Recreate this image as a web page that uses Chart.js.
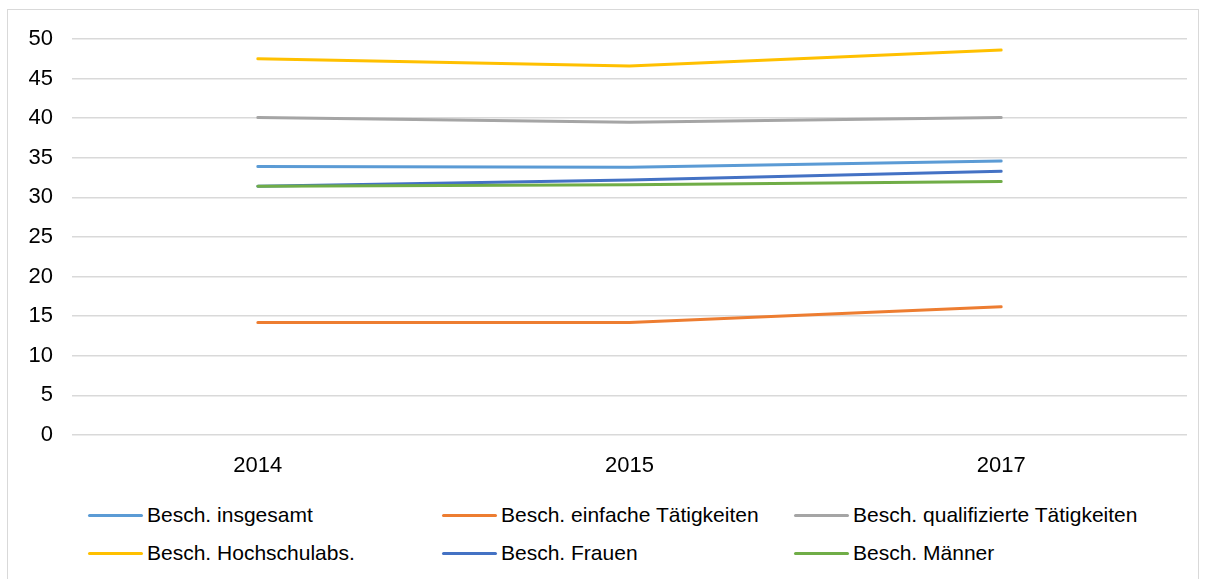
<!DOCTYPE html>
<html lang="de">
<head>
<meta charset="UTF-8">
<title>Beschäftigte</title>
<script src="https://cdn.jsdelivr.net/npm/chart.js@4.4.0/dist/chart.umd.min.js"></script>
<style>
    body {
        margin: 0;
        background: #fff;
        font-family: "Liberation Sans", Arial, sans-serif;
    }
    #wrap {
        position: relative;
        width: 1209px;
        height: 579px;
        overflow: hidden;
    }
    #frame {
        position: absolute;
        left: 7px;
        top: 9px;
        width: 1190px;
        height: 600px;
        border: 1px solid #d9d9d9;
    }
    #chartBox {
        position: absolute;
        left: 0;
        top: 0;
        width: 1209px;
        height: 491px;
    }
    #legend {
        position: absolute;
        left: 0;
        top: 0;
    }
    .item {
        position: absolute;
        display: flex;
        align-items: center;
        height: 26px;
        font-size: 21px;
        color: #000;
        white-space: nowrap;
    }
    .swatch {
        width: 55px;
        height: 3px;
        border-radius: 2px;
        margin-right: 4px;
    }
</style>
</head>
<body>
<div id="wrap">
    <div id="frame"></div>
    <div id="chartBox"><canvas id="lineChart"></canvas></div>
    <div id="legend"></div>
</div>

<script>
    // categories and series
    const years = ['2014', '2015', '2017'];
    const seriesNames = [
        'Besch. insgesamt',
        'Besch. einfache Tätigkeiten',
        'Besch. qualifizierte Tätigkeiten',
        'Besch. Hochschulabs.',
        'Besch. Frauen',
        'Besch. Männer'
    ];
    const insgesamt = [33.9, 33.8, 34.6];
    const einfache = [14.2, 14.2, 16.2];
    const qualifiziert = [40.1, 39.5, 40.1];
    const hochschul = [47.5, 46.6, 48.6];
    const frauen = [31.4, 32.2, 33.3];
    const maenner = [31.4, 31.6, 32.0];
    const colors = ['#5B9BD5', '#ED7D31', '#A5A5A5', '#FFC000', '#4472C4', '#70AD47'];

    const seriesValues = [insgesamt, einfache, qualifiziert, hochschul, frauen, maenner];

    const datasets = seriesValues.map((vals, i) => ({
        label: seriesNames[i],
        data: vals,
        borderColor: colors[i],
        backgroundColor: colors[i],
        borderWidth: 3,
        borderCapStyle: 'round',
        borderJoinStyle: 'round',
        pointRadius: 0,
        tension: 0,
        order: seriesValues.length - i   // later series on top, like Excel
    }));

    const tickFont = { family: '"Liberation Sans", Arial, sans-serif', size: 22 };

    new Chart(document.getElementById('lineChart'), {
        type: 'line',
        data: { labels: years, datasets: datasets },
        options: {
            responsive: true,
            maintainAspectRatio: false,
            animation: false,
            layout: { padding: { top: 39, right: 22, left: 0, bottom: 0 } },
            plugins: {
                legend: { display: false },
                tooltip: { enabled: false }
            },
            scales: {
                x: {
                    offset: true,
                    grid: { display: false, drawTicks: false },
                    border: { display: false },
                    ticks: { color: '#000', font: tickFont, padding: 18 },
                    afterFit: (s) => { s.height = 56; }
                },
                y: {
                    min: 0,
                    max: 50,
                    ticks: { stepSize: 5, color: '#000', font: tickFont, padding: 19 },
                    grid: { color: '#d9d9d9', lineWidth: 1.5, drawTicks: false },
                    border: { display: false },
                    afterFit: (s) => { s.width = 72; }
                }
            }
        }
    });

    // legend laid out in three columns, like the original
    const legendCols = [88, 442, 794];
    const legendRows = [515, 553];
    const legend = document.getElementById('legend');
    seriesNames.forEach((name, i) => {
        const el = document.createElement('div');
        el.className = 'item';
        el.style.left = legendCols[i % 3] + 'px';
        el.style.top = (legendRows[Math.floor(i / 3)] - 13) + 'px';
        const sw = document.createElement('span');
        sw.className = 'swatch';
        sw.style.background = colors[i];
        el.appendChild(sw);
        el.appendChild(document.createTextNode(name));
        legend.appendChild(el);
    });
</script>
</body>
</html>
